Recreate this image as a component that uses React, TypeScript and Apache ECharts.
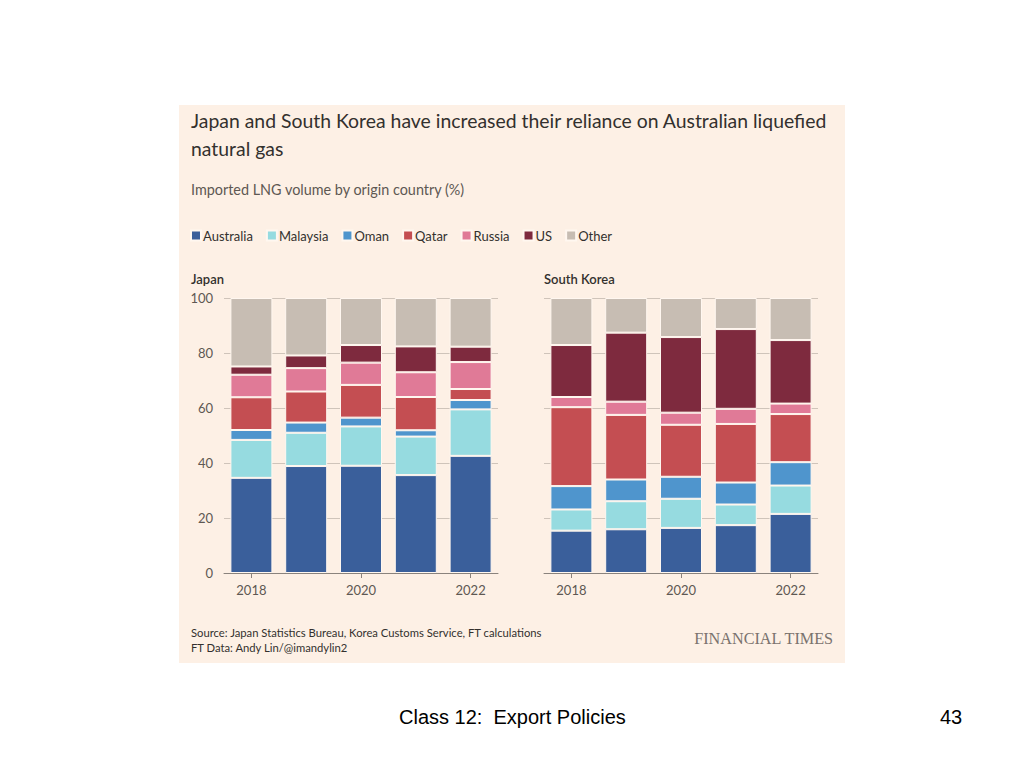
import React, { useEffect, useRef } from "react";
import * as echarts from "echarts";

const years = ["2018", "2019", "2020", "2021", "2022"];
const seriesNames = ["Australia", "Malaysia", "Oman", "Qatar", "Russia", "US", "Other"];
const colors = ["#3a5f9b", "#96dbe0", "#4f95cd", "#c44e52", "#e07a97", "#7e2a3e", "#c7bdb3"];

const japanAustralia = [34.6, 38.9, 39.0, 35.6, 42.6];
const japanMalaysia = [13.8, 12.1, 14.3, 14.0, 16.9];
const japanOman = [3.6, 3.7, 3.2, 2.3, 3.4];
const japanQatar = [11.9, 11.3, 11.9, 12.1, 4.0];
const japanRussia = [8.2, 8.5, 8.1, 9.0, 9.8];
const japanUS = [3.0, 4.6, 6.4, 9.4, 5.6];
const japanOther = [24.9, 20.9, 17.1, 17.6, 17.7];

const koreaAustralia = [15.4, 15.9, 16.4, 17.4, 21.5];
const koreaMalaysia = [7.7, 10.2, 10.6, 7.5, 10.3];
const koreaOman = [8.5, 7.9, 8.0, 8.0, 8.5];
const koreaQatar = [28.7, 23.5, 18.9, 21.3, 17.5];
const koreaRussia = [3.7, 4.8, 4.4, 5.5, 3.8];
const koreaUS = [18.9, 25.1, 27.5, 29.0, 23.1];
const koreaOther = [17.1, 12.6, 14.2, 11.3, 15.3];

const yTicks = [0, 20, 40, 60, 80, 100];

const japanData = [japanAustralia, japanMalaysia, japanOman, japanQatar, japanRussia, japanUS, japanOther];
const koreaData = [koreaAustralia, koreaMalaysia, koreaOman, koreaQatar, koreaRussia, koreaUS, koreaOther];

const FONT = "Lato";

export default function App() {
  const ref = useRef<HTMLDivElement>(null);
  useEffect(() => {
    if (!ref.current) return;
    const chart = echarts.init(ref.current, null, { renderer: "svg" });
    const xAxisBase = (gridIndex: number) => ({
      type: "category",
      gridIndex,
      data: years,
      axisLine: { show: true, lineStyle: { color: "#8a837d", width: 1 } },
      axisTick: { show: true, interval: 1, alignWithLabel: true, length: 5, lineStyle: { color: "#8a837d" } },
      axisLabel: { interval: 1, margin: 10, fontSize: 13, color: "#5e5853", fontFamily: FONT },
    });
    const yAxisBase = (gridIndex: number, showLabel: boolean) => ({
      type: "value",
      gridIndex,
      min: 0,
      max: 100,
      interval: 20,
      axisLine: { show: false },
      axisTick: { show: false },
      axisLabel: {
        show: showLabel,
        margin: 11,
        fontSize: 13,
        color: "#5e5853",
        fontFamily: FONT,
        formatter: (v: number) => (yTicks.includes(v) ? String(v) : ""),
      },
      splitLine: { show: true, lineStyle: { color: "#cfc4ba", width: 1 } },
    });
    const makeSeries = (data: number[][], idx: number, stack: string) =>
      seriesNames.map((name, i) => ({
        name,
        type: "bar",
        stack,
        xAxisIndex: idx,
        yAxisIndex: idx,
        barWidth: 42,
        data: data[i],
        itemStyle: { color: colors[i], borderColor: "#fff7f0", borderWidth: 1 },
        emphasis: { disabled: true },
      }));

    chart.setOption({
      animation: false,
      backgroundColor: "#ffffff",
      color: colors,
      legend: {
        left: 190,
        top: 229,
        padding: 0,
        icon: "rect",
        itemWidth: 10,
        itemHeight: 10,
        itemGap: 13,
        data: seriesNames,
        textStyle: { fontSize: 13, color: "#33302e", fontFamily: FONT, padding: [0, 0, 0, -3] },
        selectedMode: false,
      },
      grid: [
        { left: 224, top: 298, width: 274, height: 275 },
        { left: 544, top: 298, width: 274, height: 275 },
      ],
      xAxis: [xAxisBase(0), xAxisBase(1)],
      yAxis: [yAxisBase(0, true), yAxisBase(1, false)],
      series: [...makeSeries(japanData, 0, "japan"), ...makeSeries(koreaData, 1, "korea")],
      graphic: [
        { type: "rect", z: -10, shape: { x: 179, y: 105, width: 666, height: 558 }, style: { fill: "#fdf0e5" } },
        {
          type: "text", left: 191, top: 111,
          style: { text: "Japan and South Korea have increased their reliance on Australian liquefied", fontSize: 19.4, fontFamily: FONT, fill: "#33302e" },
        },
        {
          type: "text", left: 191, top: 139,
          style: { text: "natural gas", fontSize: 19.4, fontFamily: FONT, fill: "#33302e" },
        },
        {
          type: "text", left: 191, top: 182,
          style: { text: "Imported LNG volume by origin country (%)", fontSize: 14.4, fontFamily: FONT, fill: "#5e5853" },
        },
        {
          type: "text", left: 191, top: 272,
          style: { text: "Japan", fontSize: 13, fontWeight: 600, fontFamily: FONT, fill: "#33302e" },
        },
        {
          type: "text", left: 544, top: 272,
          style: { text: "South Korea", fontSize: 13, fontWeight: 600, fontFamily: FONT, fill: "#33302e" },
        },
        {
          type: "text", left: 191, top: 627,
          style: { text: "Source: Japan Statistics Bureau, Korea Customs Service, FT calculations", fontSize: 11.25, fontFamily: FONT, fill: "#33302e" },
        },
        {
          type: "text", left: 191, top: 642,
          style: { text: "FT Data: Andy Lin/@imandylin2", fontSize: 11.25, fontFamily: FONT, fill: "#33302e" },
        },
        {
          type: "text", right: 1024 - 834, top: 631,
          style: { text: "FINANCIAL TIMES", fontSize: 16.2, fontFamily: "Liberation Serif", fill: "#7a736e" },
        },
        {
          type: "text", left: 399, top: 707,
          style: { text: "Class 12:  Export Policies", fontSize: 20, fontFamily: "Liberation Sans", fill: "#000000" },
        },
        {
          type: "text", left: 940, top: 707,
          style: { text: "43", fontSize: 20, fontFamily: "Liberation Sans", fill: "#000000" },
        },
      ],
    });
    return () => chart.dispose();
  }, []);
  return (
    <div
      ref={ref}
      style={{ position: "fixed", left: 0, top: 0, width: 1024, height: 768 }}
    />
  );
}
